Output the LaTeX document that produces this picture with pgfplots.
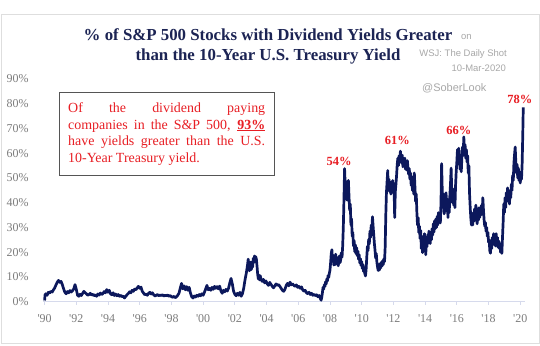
\documentclass[border=0pt]{standalone}
\usepackage{pgfplots}
\pgfplotsset{compat=1.18}
\usepackage{fontspec}
\setmainfont{Liberation Serif}
\newfontfamily\sansf{Liberation Sans}
\definecolor{navy}{RGB}{12,24,92}
\definecolor{titlenavy}{RGB}{28,36,84}
\definecolor{redtxt}{RGB}{232,30,36}
\definecolor{ticklbl}{RGB}{125,125,125}
\definecolor{graytxt}{RGB}{168,168,168}
\definecolor{axisln}{RGB}{214,218,236}
\definecolor{framec}{RGB}{222,222,222}
\definecolor{boxgray}{RGB}{85,85,85}
\begin{document}
\begin{tikzpicture}[x=1bp,y=1bp]
\fill[white] (0,0) rectangle (540,345);
\path[use as bounding box] (0,0) rectangle (540,345);
\draw[framec, line width=1bp] (1,2) rectangle (539,330);
% titles
\node[anchor=base, inner sep=0, font=\fontsize{16.9}{18}\selectfont\bfseries, text=titlenavy] at (268,305) {\% of S\&P 500 Stocks with Dividend Yields Greater};
\node[anchor=base, inner sep=0, font=\fontsize{16.9}{18}\selectfont\bfseries, text=titlenavy] at (268,285) {than the 10-Year U.S. Treasury Yield};
\node[anchor=base west, inner sep=0, font=\sansf\fontsize{9.5}{10}\selectfont, text=graytxt] at (461,306) {on};
\node[anchor=base east, inner sep=0, font=\sansf\fontsize{9.5}{10}\selectfont, text=graytxt] at (507,289) {WSJ: The Daily Shot};
\node[anchor=base east, inner sep=0, font=\sansf\fontsize{9.5}{10}\selectfont, text=graytxt] at (506,274) {10-Mar-2020};
\node[anchor=base west, inner sep=0, font=\sansf\fontsize{11}{12}\selectfont, text=graytxt] at (422,254) {@SoberLook};
\begin{axis}[
  at={(43bp,43.3bp)}, anchor=south west, scale only axis,
  width=482bp, height=227.7bp,
  xmin=1989.9, xmax=2020.3, ymin=0, ymax=92,
  axis x line*=bottom, axis y line*=left,
  x axis line style={axisln, line width=0.8bp},
  y axis line style={draw=none},
  ytick={0,10,...,90},
  yticklabels={0\%,10\%,20\%,30\%,40\%,50\%,60\%,70\%,80\%,90\%},
  xtick={1990,1992,...,2020},
  xticklabels={\textquotesingle90,\textquotesingle92,\textquotesingle94,\textquotesingle96,\textquotesingle98,\textquotesingle00,\textquotesingle02,\textquotesingle04,\textquotesingle06,\textquotesingle08,\textquotesingle10,\textquotesingle12,\textquotesingle14,\textquotesingle16,\textquotesingle18,\textquotesingle20},
  tick label style={font=\fontsize{12}{12}\selectfont, text=ticklbl},
  ytick style={draw=none},
  xtick style={axisln, line width=0.8bp},
  tick align=outside, major tick length=3bp,
  yticklabel style={xshift=-8bp},
  xticklabel style={yshift=-6bp},
  clip=false,
]
\addplot[navy, line width=2.7bp, line join=round] table[row sep=\\] {
x y\\
1990.00 0.5\\ 1990.03 2.8\\ 1990.08 3.2\\ 1990.16 2.6\\ 1990.24 3.8\\ 1990.32 3.5\\ 1990.40 4.2\\ 1990.48 3.9\\ 1990.56 4.8\\ 1990.64 5.6\\ 1990.72 6.8\\ 1990.80 7.9\\ 1990.88 8.6\\ 1990.96 7.8\\
1991.04 8.2\\ 1991.12 6.9\\ 1991.20 5.2\\ 1991.28 3.8\\ 1991.36 3.2\\ 1991.44 4.1\\ 1991.52 3.6\\ 1991.60 4.5\\ 1991.68 3.9\\ 1991.76 4.4\\ 1991.84 5.2\\ 1991.92 6.9\\
1992.00 5.0\\ 1992.08 2.6\\ 1992.16 2.2\\ 1992.24 3.0\\ 1992.32 2.5\\ 1992.40 3.4\\ 1992.48 4.2\\ 1992.56 3.6\\ 1992.64 3.2\\ 1992.72 2.6\\ 1992.80 2.9\\ 1992.88 3.4\\ 1992.96 2.7\\
1993.04 3.0\\ 1993.12 2.4\\ 1993.20 2.8\\ 1993.28 2.2\\ 1993.36 3.1\\ 1993.44 2.7\\ 1993.52 3.5\\ 1993.60 2.9\\ 1993.68 3.3\\ 1993.76 4.1\\ 1993.84 3.6\\ 1993.92 4.9\\
1994.00 3.8\\ 1994.08 4.6\\ 1994.16 3.2\\ 1994.24 2.8\\ 1994.32 3.6\\ 1994.40 2.5\\ 1994.48 3.1\\ 1994.56 2.4\\ 1994.64 2.9\\ 1994.72 2.2\\ 1994.80 2.6\\ 1994.88 2.0\\ 1994.96 2.3\\
1995.04 1.5\\ 1995.12 2.2\\ 1995.20 2.8\\ 1995.28 3.3\\ 1995.36 4.0\\ 1995.44 3.6\\ 1995.52 4.6\\ 1995.60 4.2\\ 1995.68 5.1\\ 1995.76 4.8\\ 1995.84 5.6\\ 1995.92 6.2\\
1996.00 5.4\\ 1996.08 5.9\\ 1996.16 4.2\\ 1996.24 3.5\\ 1996.32 2.8\\ 1996.40 3.1\\ 1996.48 2.6\\ 1996.56 3.4\\ 1996.64 3.8\\ 1996.72 3.1\\ 1996.80 3.6\\ 1996.88 2.8\\ 1996.96 2.3\\
1997.04 2.6\\ 1997.12 2.9\\ 1997.20 2.4\\ 1997.28 2.7\\ 1997.36 2.5\\ 1997.44 2.8\\ 1997.52 2.3\\ 1997.60 2.6\\ 1997.68 2.4\\ 1997.76 2.7\\ 1997.84 2.2\\ 1997.92 2.5\\
1998.00 2.0\\ 1998.08 1.8\\ 1998.16 2.2\\ 1998.24 1.6\\ 1998.32 2.0\\ 1998.40 2.6\\ 1998.48 3.5\\ 1998.56 5.6\\ 1998.64 7.4\\ 1998.72 5.2\\ 1998.80 6.4\\ 1998.88 4.8\\ 1998.96 6.1\\
1999.04 4.6\\ 1999.12 5.8\\ 1999.20 3.5\\ 1999.28 2.0\\ 1999.36 1.5\\ 1999.44 2.3\\ 1999.52 1.9\\ 1999.60 2.6\\ 1999.68 2.2\\ 1999.76 2.9\\ 1999.84 2.4\\ 1999.92 3.2\\
2000.00 2.6\\ 2000.08 3.8\\ 2000.16 5.2\\ 2000.24 6.6\\ 2000.32 4.8\\ 2000.40 5.4\\ 2000.48 4.6\\ 2000.56 5.8\\ 2000.64 5.0\\ 2000.72 6.2\\ 2000.80 5.4\\ 2000.88 6.1\\ 2000.96 5.2\\
2001.04 6.3\\ 2001.12 4.4\\ 2001.20 3.4\\ 2001.28 4.6\\ 2001.36 4.0\\ 2001.44 5.0\\ 2001.52 4.3\\ 2001.60 5.4\\ 2001.68 7.6\\ 2001.76 9.4\\ 2001.84 7.2\\ 2001.92 4.2\\
2002.00 3.0\\ 2002.08 2.4\\ 2002.16 3.4\\ 2002.24 2.6\\ 2002.32 3.8\\ 2002.40 2.2\\ 2002.48 3.2\\ 2002.56 5.5\\ 2002.64 8.8\\ 2002.72 11.5\\ 2002.80 14.8\\ 2002.84 17.2\\ 2002.88 15.0\\ 2002.92 12.5\\ 2002.96 13.8\\
2003.00 16.0\\ 2003.04 13.0\\ 2003.08 15.2\\ 2003.12 14.0\\ 2003.16 17.5\\ 2003.20 15.8\\ 2003.24 18.5\\ 2003.28 16.2\\ 2003.32 18.2\\ 2003.36 17.0\\ 2003.40 14.2\\ 2003.44 11.0\\ 2003.48 9.2\\ 2003.52 10.8\\ 2003.56 8.8\\ 2003.60 10.5\\ 2003.64 9.4\\ 2003.72 8.2\\ 2003.80 9.0\\ 2003.88 7.6\\ 2003.96 8.4\\
2004.04 7.2\\ 2004.12 6.6\\ 2004.20 7.8\\ 2004.28 7.0\\ 2004.36 6.2\\ 2004.44 5.6\\ 2004.52 6.4\\ 2004.60 7.2\\ 2004.68 6.6\\ 2004.76 6.9\\ 2004.84 6.2\\ 2004.92 5.4\\
2005.00 4.6\\ 2005.08 4.2\\ 2005.16 5.0\\ 2005.24 6.6\\ 2005.32 7.4\\ 2005.40 6.4\\ 2005.48 7.9\\ 2005.56 6.8\\ 2005.64 7.2\\ 2005.72 6.6\\ 2005.80 6.2\\ 2005.88 6.8\\ 2005.96 5.8\\
2006.04 6.2\\ 2006.12 5.4\\ 2006.20 6.0\\ 2006.28 4.8\\ 2006.36 4.2\\ 2006.44 4.6\\ 2006.52 3.6\\ 2006.60 3.2\\ 2006.68 3.8\\ 2006.76 2.9\\ 2006.84 3.4\\ 2006.92 2.6\\
2007.00 3.0\\ 2007.08 2.4\\ 2007.16 2.8\\ 2007.24 2.0\\ 2007.32 2.5\\ 2007.40 1.2\\ 2007.44 0.6\\ 2007.48 1.8\\ 2007.52 3.5\\ 2007.56 5.8\\ 2007.60 5.0\\ 2007.64 6.8\\ 2007.68 6.2\\ 2007.72 8.0\\ 2007.76 7.2\\ 2007.80 9.2\\ 2007.84 8.4\\ 2007.88 10.6\\ 2007.92 9.8\\ 2007.96 11.5\\
2008.00 12.8\\ 2008.04 15.8\\ 2008.08 19.5\\ 2008.12 21.0\\ 2008.16 16.2\\ 2008.20 18.8\\ 2008.24 14.8\\ 2008.28 17.0\\ 2008.32 15.0\\ 2008.36 19.2\\ 2008.40 16.4\\ 2008.44 15.2\\ 2008.48 17.8\\ 2008.52 14.5\\ 2008.56 16.6\\ 2008.60 18.5\\ 2008.64 15.8\\ 2008.68 17.2\\ 2008.72 19.8\\ 2008.76 18.0\\ 2008.80 22.5\\ 2008.84 30.0\\ 2008.88 41.0\\ 2008.92 53.8\\ 2008.96 47.0\\
2009.00 43.5\\ 2009.04 48.5\\ 2009.08 41.0\\ 2009.12 45.0\\ 2009.16 49.0\\ 2009.20 42.5\\ 2009.24 37.0\\ 2009.28 39.5\\ 2009.32 31.0\\ 2009.36 33.5\\ 2009.40 26.5\\ 2009.44 28.0\\ 2009.48 22.5\\ 2009.52 24.8\\ 2009.56 20.2\\ 2009.60 23.0\\ 2009.64 19.4\\ 2009.68 21.8\\ 2009.72 18.6\\ 2009.76 20.4\\ 2009.80 17.2\\ 2009.84 19.0\\ 2009.88 15.6\\ 2009.92 17.4\\ 2009.96 14.6\\
2010.00 16.2\\ 2010.04 13.4\\ 2010.08 15.0\\ 2010.12 12.2\\ 2010.16 13.8\\ 2010.20 11.2\\ 2010.24 10.4\\ 2010.28 13.2\\ 2010.32 18.0\\ 2010.36 22.4\\ 2010.40 20.6\\ 2010.44 25.2\\ 2010.48 23.4\\ 2010.52 28.5\\ 2010.56 26.0\\ 2010.60 31.0\\ 2010.64 29.2\\ 2010.68 34.3\\ 2010.72 30.5\\ 2010.76 27.0\\ 2010.80 23.5\\ 2010.84 20.8\\ 2010.88 17.6\\ 2010.92 19.4\\ 2010.96 15.8\\
2011.00 14.0\\ 2011.04 12.6\\ 2011.08 14.8\\ 2011.12 12.8\\ 2011.16 15.4\\ 2011.20 13.6\\ 2011.24 16.0\\ 2011.28 14.4\\ 2011.32 16.6\\ 2011.36 15.0\\ 2011.40 17.4\\ 2011.44 16.2\\ 2011.48 22.0\\ 2011.52 35.0\\ 2011.56 44.0\\ 2011.60 48.5\\ 2011.64 53.0\\ 2011.68 46.0\\ 2011.72 49.5\\ 2011.76 44.5\\ 2011.80 47.8\\ 2011.84 43.5\\ 2011.88 48.5\\ 2011.92 45.2\\ 2011.96 49.0\\
2012.00 44.0\\ 2012.04 46.5\\ 2012.08 34.0\\ 2012.12 44.5\\ 2012.16 47.5\\ 2012.20 51.0\\ 2012.24 55.5\\ 2012.28 58.0\\ 2012.32 55.0\\ 2012.36 59.0\\ 2012.40 57.0\\ 2012.44 60.8\\ 2012.48 58.2\\ 2012.52 56.0\\ 2012.56 59.2\\ 2012.60 54.5\\ 2012.64 57.8\\ 2012.68 55.0\\ 2012.72 58.0\\ 2012.76 53.5\\ 2012.80 56.8\\ 2012.84 53.2\\ 2012.88 57.0\\ 2012.92 54.0\\ 2012.96 51.5\\
2013.00 53.8\\ 2013.04 49.5\\ 2013.08 52.0\\ 2013.12 47.0\\ 2013.16 50.5\\ 2013.20 45.0\\ 2013.24 48.5\\ 2013.28 43.5\\ 2013.32 52.0\\ 2013.36 46.0\\ 2013.40 40.5\\ 2013.44 43.5\\ 2013.48 36.0\\ 2013.52 31.0\\ 2013.56 34.0\\ 2013.60 28.0\\ 2013.64 30.5\\ 2013.68 25.5\\ 2013.72 28.8\\ 2013.76 21.5\\ 2013.80 26.5\\ 2013.84 19.8\\ 2013.88 24.5\\ 2013.92 22.0\\ 2013.96 27.5\\
2014.00 23.0\\ 2014.04 19.0\\ 2014.08 24.8\\ 2014.12 22.2\\ 2014.16 27.0\\ 2014.20 24.0\\ 2014.24 28.5\\ 2014.28 25.2\\ 2014.32 23.5\\ 2014.36 27.8\\ 2014.40 25.0\\ 2014.44 29.5\\ 2014.48 27.0\\ 2014.52 31.5\\ 2014.56 28.2\\ 2014.60 32.8\\ 2014.64 29.5\\ 2014.68 33.5\\ 2014.72 30.0\\ 2014.76 34.5\\ 2014.80 31.0\\ 2014.84 36.0\\ 2014.88 32.5\\ 2014.92 35.0\\ 2014.96 31.8\\
2015.00 40.0\\ 2015.04 55.8\\ 2015.08 45.0\\ 2015.12 38.0\\ 2015.16 43.5\\ 2015.20 35.5\\ 2015.24 41.0\\ 2015.28 36.5\\ 2015.32 44.0\\ 2015.36 38.0\\ 2015.40 41.5\\ 2015.44 34.0\\ 2015.48 39.0\\ 2015.52 36.0\\ 2015.56 43.0\\ 2015.60 47.5\\ 2015.64 54.0\\ 2015.68 44.5\\ 2015.72 40.0\\ 2015.76 45.5\\ 2015.80 39.0\\ 2015.84 43.5\\ 2015.88 38.0\\ 2015.92 47.0\\ 2015.96 52.5\\
2016.00 56.5\\ 2016.04 61.5\\ 2016.08 57.0\\ 2016.12 62.0\\ 2016.16 58.5\\ 2016.20 53.5\\ 2016.24 56.0\\ 2016.28 52.5\\ 2016.32 58.5\\ 2016.36 62.5\\ 2016.40 59.0\\ 2016.44 66.6\\ 2016.48 61.0\\ 2016.52 63.5\\ 2016.56 58.0\\ 2016.60 61.5\\ 2016.64 56.5\\ 2016.68 59.0\\ 2016.72 52.0\\ 2016.76 55.0\\ 2016.80 44.0\\ 2016.84 38.5\\ 2016.88 34.0\\ 2016.92 31.0\\ 2016.96 34.5\\
2017.00 31.0\\ 2017.04 36.0\\ 2017.08 32.5\\ 2017.12 37.5\\ 2017.16 33.5\\ 2017.20 39.0\\ 2017.24 34.5\\ 2017.28 31.5\\ 2017.32 36.5\\ 2017.36 33.0\\ 2017.40 38.0\\ 2017.44 34.0\\ 2017.48 37.5\\ 2017.52 35.0\\ 2017.56 39.0\\ 2017.60 36.0\\ 2017.64 42.0\\ 2017.68 37.0\\ 2017.72 33.0\\ 2017.76 30.5\\ 2017.80 32.0\\ 2017.84 28.5\\ 2017.88 30.0\\ 2017.92 26.5\\ 2017.96 28.0\\
2018.00 24.0\\ 2018.04 25.0\\ 2018.08 20.5\\ 2018.12 19.6\\ 2018.16 23.5\\ 2018.20 21.5\\ 2018.24 26.0\\ 2018.28 23.0\\ 2018.32 27.5\\ 2018.36 24.5\\ 2018.40 26.5\\ 2018.44 22.5\\ 2018.48 27.5\\ 2018.52 24.0\\ 2018.56 26.0\\ 2018.60 22.0\\ 2018.64 24.5\\ 2018.68 21.5\\ 2018.72 23.5\\ 2018.76 20.0\\ 2018.80 22.5\\ 2018.84 19.5\\ 2018.88 26.0\\ 2018.92 32.0\\ 2018.96 39.5\\
2019.00 36.0\\ 2019.04 42.0\\ 2019.08 38.0\\ 2019.12 44.0\\ 2019.16 40.5\\ 2019.20 46.0\\ 2019.24 41.0\\ 2019.28 44.5\\ 2019.32 39.5\\ 2019.36 45.0\\ 2019.40 42.0\\ 2019.44 47.5\\ 2019.48 45.0\\ 2019.52 51.0\\ 2019.56 49.0\\ 2019.60 56.0\\ 2019.64 59.5\\ 2019.68 62.5\\ 2019.72 56.5\\ 2019.76 52.0\\ 2019.80 55.5\\ 2019.84 50.0\\ 2019.88 54.0\\ 2019.92 49.0\\ 2019.96 52.5\\
2020.00 48.0\\ 2020.04 51.0\\ 2020.08 49.5\\ 2020.12 56.0\\ 2020.16 68.0\\ 2020.19 78.5\\
};
\node[inner sep=0, font=\fontsize{12.5}{13}\selectfont\bfseries, text=redtxt] at (axis cs:2008.58,56.6) {54\%};
\node[inner sep=0, font=\fontsize{12.5}{13}\selectfont\bfseries, text=redtxt] at (axis cs:2012.25,65.1) {61\%};
\node[inner sep=0, font=\fontsize{12.5}{13}\selectfont\bfseries, text=redtxt] at (axis cs:2016.13,69.4) {66\%};
\node[inner sep=0, font=\fontsize{12.5}{13}\selectfont\bfseries, text=redtxt] at (axis cs:2019.97,81.9) {78\%};
\end{axis}
% text box
\draw[draw=boxgray, line width=0.9bp, fill=white] (59,253) rectangle (274,170);
\begin{scope}[every node/.style={anchor=base west, inner sep=0, text=redtxt, font=\fontsize{14}{16}\selectfont}]
\node at (68,233) {\makebox[197bp][s]{Of the dividend paying}};
\node at (68,216) {\makebox[197bp][s]{companies in the S\&P 500, \underline{\textbf{93\%}}}};
\node at (68,199.5) {\makebox[197bp][s]{have yields greater than the U.S.}};
\node at (68,183) {10-Year Treasury yield.};
\end{scope}
\end{tikzpicture}
\end{document}
